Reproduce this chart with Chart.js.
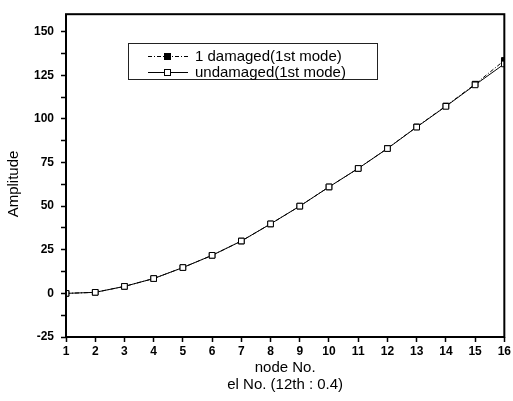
<!DOCTYPE html>
<html>
<head>
<meta charset="utf-8">
<script src="https://cdn.jsdelivr.net/npm/chart.js@4.4.1/dist/chart.umd.min.js"></script>
<style>
html,body{margin:0;padding:0;background:#fff;}
#wrap{width:513px;height:401px;position:relative;}
</style>
</head>
<body>
<div id="wrap"><canvas id="c" width="513" height="401"></canvas></div>
<script>
const nodes = [1,2,3,4,5,6,7,8,9,10,11,12,13,14,15,16];
const undamaged = [0, 0.6, 4, 8.5, 14.8, 21.8, 30, 39.8, 50, 61, 71.6, 83, 95.3, 107.2, 119.5, 131.5];
const damaged = [0, 0.6, 4, 8.5, 14.8, 21.8, 30, 39.8, 50, 61, 71.6, 83.1, 95.4, 107.4, 119.9, 133.5];
const seriesNames = ['1 damaged(1st mode)', 'undamaged(1st mode)'];
const yTickValues = [-25, 0, 25, 50, 75, 100, 125, 150];
const xTitleLines = ['node No.', 'el No. (12th : 0.4)'];
const yTitle = 'Amplitude';

const FONT = 'Arial, "Liberation Sans", Helvetica, sans-serif';

const decor = {
  id: 'decor',
  afterDatasetsDraw(chart) {
    const ctx = chart.ctx;
    const a = chart.chartArea;
    ctx.save();
    // frame
    ctx.strokeStyle = '#000';
    ctx.lineWidth = 2;
    ctx.strokeRect(a.left, a.top, a.right - a.left, a.bottom - a.top);
    // legend
    const bx = 128, by = 43, bw = 249, bh = 36;
    ctx.fillStyle = '#fff';
    ctx.fillRect(bx, by, bw, bh);
    ctx.lineWidth = 1;
    ctx.strokeStyle = '#222';
    ctx.strokeRect(bx + 0.5, by + 0.5, bw, bh);
    const rows = [
      {y: 56, dash: [4, 2, 1, 2], fill: '#000', label: seriesNames[0]},
      {y: 72, dash: [], fill: '#fff', label: seriesNames[1]}
    ];
    ctx.font = '15px ' + FONT;
    ctx.textBaseline = 'middle';
    rows.forEach(r => {
      ctx.setLineDash(r.dash);
      ctx.strokeStyle = '#000';
      ctx.lineWidth = 1;
      ctx.beginPath();
      ctx.moveTo(148, r.y + 0.5);
      ctx.lineTo(188, r.y + 0.5);
      ctx.stroke();
      ctx.setLineDash([]);
      ctx.fillStyle = r.fill;
      ctx.fillRect(164, r.y - 3, 7, 7);
      ctx.strokeRect(164.5, r.y - 2.5, 6, 6);
      ctx.fillStyle = '#000';
      ctx.fillText(r.label, 195, r.y + 1);
    });
    // axis titles
    ctx.fillStyle = '#000';
    ctx.font = '15px ' + FONT;
    ctx.textAlign = 'center';
    ctx.textBaseline = 'middle';
    const cx = (a.left + a.right) / 2;
    ctx.fillText(xTitleLines[0], cx, 368);
    ctx.fillText(xTitleLines[1], cx, 385);
    ctx.translate(14, 184);
    ctx.rotate(-Math.PI / 2);
    ctx.fillText(yTitle, 0, 0);
    ctx.restore();
  }
};

new Chart(document.getElementById('c'), {
  type: 'line',
  data: {
    labels: nodes,
    datasets: [
      {
        label: seriesNames[0],
        data: nodes.map((x, i) => ({x: x, y: damaged[i]})),
        borderColor: '#000',
        borderWidth: 1,
        borderDash: [4, 2, 1, 2],
        pointStyle: 'rect',
        pointRadius: 4,
        pointBackgroundColor: '#000',
        pointBorderColor: '#000',
        pointBorderWidth: 1,
        tension: 0,
        order: 2
      },
      {
        label: seriesNames[1],
        data: nodes.map((x, i) => ({x: x, y: undamaged[i]})),
        borderColor: '#000',
        borderWidth: 1,
        pointStyle: 'rect',
        pointRadius: 4,
        pointBackgroundColor: '#fff',
        pointBorderColor: '#000',
        pointBorderWidth: 1,
        tension: 0,
        order: 1
      }
    ]
  },
  options: {
    responsive: false,
    animation: false,
    devicePixelRatio: 1,
    layout: {padding: {left: 0, right: 7, top: 12, bottom: 0}},
    plugins: {legend: {display: false}, tooltip: {enabled: false}},
    scales: {
      x: {
        type: 'linear',
        min: 1, max: 16,
        border: {display: false},
        grid: {drawOnChartArea: false, tickLength: 5, color: '#000', tickWidth: 1.5},
        ticks: {stepSize: 1, color: '#000', font: {family: FONT, size: 12, weight: 'bold'}, padding: 2, maxRotation: 0, autoSkip: false},
        afterBuildTicks: s => { s.ticks = nodes.map(v => ({value: v})); },
        afterFit: s => { s.height = 64; }
      },
      y: {
        type: 'linear',
        min: -25, max: 160,
        border: {display: false},
        grid: {drawOnChartArea: false, tickLength: 5, color: '#000', tickWidth: 1.5},
        ticks: {
          color: '#000', font: {family: FONT, size: 12, weight: 'bold'}, padding: 7,
          callback: v => (yTickValues.includes(v) ? String(v) : '')
        },
        afterBuildTicks: s => {
          const t = [];
          for (let i = 0; i < yTickValues.length; i++) {
            t.push({value: yTickValues[i]});
            if (i < yTickValues.length - 1) t.push({value: (yTickValues[i] + yTickValues[i + 1]) / 2});
          }
          s.ticks = t;
        },
        afterFit: s => { s.width = 66; }
      }
    }
  },
  plugins: [decor]
});
</script>
</body>
</html>
